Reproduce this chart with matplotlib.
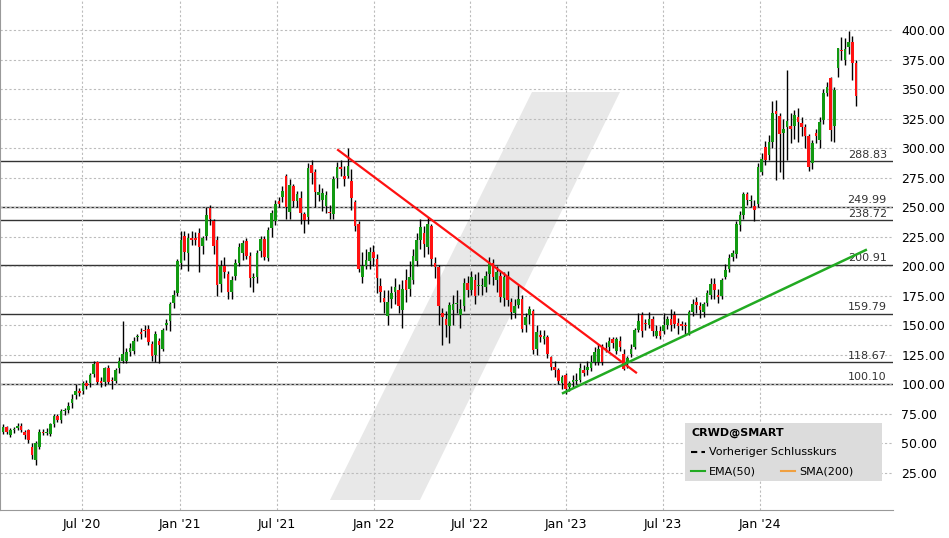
import matplotlib
matplotlib.use("Agg")
import matplotlib.pyplot as plt
from matplotlib.patches import Polygon, Rectangle
import numpy as np

opens = [60,64,57,61,63,65,60,61,47,36,47,60,59,58,66,73,70,77,78,84,91,94,94,101,101,109,119,103,102,114,
         104,103,114,120,120,127,128,140,144,146,147,134,125,137,130,150,154,169,177,203,226,211,224,224,228,217,226,249,238,222,
         185,200,193,178,192,203,211,221,209,190,191,213,223,207,232,238,255,259,276,246,268,255,258,244,242,286,280,260,256,251,
         246,244,275,284,276,276,272,254,236,191,200,204,212,206,183,173,158,172,178,180,163,188,181,188,204,222,228,216,234,203,
         199,160,155,149,163,168,159,166,186,180,188,183,183,182,193,203,188,192,173,192,170,160,167,172,150,159,162,130,142,138,
         140,123,115,112,101,108,98,102,103,104,112,112,114,119,119,131,131,132,138,128,137,126,118,126,132,146,159,152,150,155,
         141,145,145,150,155,159,152,151,150,143,161,170,166,161,169,176,185,176,175,191,198,208,210,235,243,261,255,251,253,280,
         301,294,305,331,327,313,318,319,319,326,321,318,310,287,313,307,324,347,359,319,368,383,375,386,390,372]
closes = [64,60,61,62,65,61,57,53,40,50,60,59,60,66,73,70,77,78,82,88,94,93,101,99,108,117,102,101,114,102,
          103,112,120,126,127,131,137,140,143,145,136,124,143,133,146,152,168,176,204,222,212,224,222,222,216,224,243,240,217,184,
          200,195,178,188,203,216,220,209,190,191,211,223,208,231,245,253,253,264,250,269,255,261,245,239,283,279,263,263,262,260,
          245,274,284,282,274,285,258,234,198,200,205,212,207,190,178,170,170,177,182,166,181,180,191,209,222,233,219,236,206,199,
          166,157,150,167,168,169,164,186,180,191,175,184,184,192,203,191,195,174,191,171,161,166,172,147,157,164,129,144,140,141,
          126,115,112,103,106,96,101,104,104,114,110,115,119,127,130,119,130,137,135,138,132,113,122,130,146,154,145,151,155,145,
          145,141,150,155,150,151,149,149,149,161,168,167,163,168,177,185,180,174,188,197,207,211,236,243,261,256,256,248,284,291,
          290,305,330,329,312,316,323,316,328,322,318,310,284,304,310,322,347,352,315,349,385,382,384,390,372,344]
highs = [66,65,63,64,67,67,61,62,50,52,62,62,63,67,75,75,79,80,85,92,100,97,103,104,110,120,120,106,115,116,
         106,114,123,154,131,135,140,143,148,150,150,137,145,139,148,155,170,180,206,230,230,228,230,229,232,226,250,252,240,226,
         205,208,196,192,206,220,222,224,212,194,214,226,226,233,248,256,259,268,278,274,270,264,264,246,287,290,282,270,266,264,
         252,276,288,290,285,300,282,256,238,212,215,216,218,210,190,180,180,183,190,185,188,198,204,215,228,240,234,242,236,208,
         201,165,162,170,176,180,172,190,192,196,193,195,190,196,208,206,200,196,195,196,173,172,184,176,160,166,164,150,146,146,
         142,124,120,114,108,110,103,108,110,118,116,120,125,132,134,134,136,140,140,140,141,130,124,134,148,160,161,155,161,158,
         150,149,160,158,164,162,156,154,153,163,172,174,170,170,180,190,190,181,190,202,210,214,238,247,263,263,260,256,287,296,
         306,311,340,341,330,325,366,330,332,334,326,320,312,307,316,326,350,356,360,352,385,394,393,399,395,375]
lows = [58,58,55,59,61,60,54,50,37,32,45,57,57,56,64,68,67,74,76,80,88,90,92,96,98,106,100,98,99,100,
        96,101,110,118,118,124,126,137,138,140,133,120,119,118,128,146,145,165,175,198,205,196,218,218,195,210,222,235,210,175,
        178,190,172,172,188,200,205,206,182,178,186,208,205,204,225,235,250,254,240,240,250,250,236,228,236,270,250,255,247,245,
        240,240,266,276,268,275,248,230,195,186,198,198,200,177,170,160,150,165,168,160,148,170,175,185,200,215,208,210,200,190,
        150,133,140,135,150,160,148,162,174,176,168,176,176,178,185,184,178,170,166,166,155,156,165,144,144,151,126,125,136,134,
        122,112,106,100,96,92,94,97,100,102,107,108,111,116,116,116,127,128,131,126,128,112,114,123,130,144,140,146,148,141,
        139,138,143,147,145,148,143,146,143,142,158,160,156,157,166,172,172,169,172,189,195,204,207,230,240,252,250,238,250,277,
        286,290,300,273,280,274,290,304,308,305,310,300,281,282,304,300,320,344,306,305,360,375,370,380,358,336]

levels = [288.83, 249.99, 238.72, 200.91, 159.79, 118.67, 100.10]
tick_pos = [21.8, 48.8, 75.5, 102.2, 128.7, 155.1, 181.8, 208.5]
tick_labels = ["Jul '20", "Jan '21", "Jul '21", "Jan '22", "Jul '22", "Jan '23", "Jul '23", "Jan '24"]
red_trend_x = [92.3, 174.4]; red_trend_y = [298.4, 110.0]
green_trend_x = [154.3, 237.7]; green_trend_y = [92.6, 213.7]
yticks = [25, 50, 75, 100, 125, 150, 175, 200, 225, 250, 275, 300, 325, 350, 375, 400]

W, H = 949, 538
fig = plt.figure(figsize=(W/100, H/100), dpi=100)
ax = fig.add_axes([0, 28/H, 893/W, 510/H])
ax.set_xlim(-0.83, 245.2)
ax.set_ylim(-6.4, 425.4)

# watermark
poly = Polygon([[330/893, (510-500)/510], [420/893, (510-500)/510], [620/893, (510-92)/510], [532/893, (510-92)/510]],
               closed=True, transform=ax.transAxes, facecolor="#e8e8e8", edgecolor="none", zorder=0)
ax.add_patch(poly)

ax.set_yticks(yticks)
ax.set_xticks(tick_pos)
ax.set_xticklabels(tick_labels, fontsize=9)
ax.grid(True, linestyle=(0, (2, 2)), color="#bcbcbc", linewidth=0.8, zorder=0.5)
ax.yaxis.tick_right()
ax.set_yticklabels([f"{v:.2f}" for v in yticks], fontsize=9)
ax.tick_params(length=0, pad=6)
for s in ["top", "right"]:
    ax.spines[s].set_visible(False)
ax.spines["left"].set_color("#999999")
ax.spines["bottom"].set_color("#999999")

for lv in levels:
    ax.axhline(lv, color="#333333", linewidth=1, zorder=1)
    ax.text(243.5, lv + 1.5, f"{lv:.2f}", ha="right", va="bottom", fontsize=8, color="#333333")

x = np.arange(len(closes))
o = np.array(opens); c = np.array(closes)
cols = np.where(c >= o, "#119911", "#ff1111")
ax.vlines(x, lows, highs, color="black", linewidth=1, zorder=2)
bot = np.minimum(o, c); hgt = np.maximum(np.abs(c - o), 1.0)
ax.bar(x, hgt, bottom=bot, width=0.72, color=cols, edgecolor="none", zorder=3)

ax.plot(red_trend_x, red_trend_y, color="#ff1111", linewidth=1.6, zorder=4)
ax.plot(green_trend_x, green_trend_y, color="#22aa22", linewidth=1.8, zorder=4)

# legend box
lx, ly = 685/W, 1 - 481/H
fig.patches.append(Rectangle((lx, ly), 197/W, 58/H, transform=fig.transFigure, facecolor="#dcdcdc", edgecolor="none", zorder=5))
fig.text(691/W, 1 - 433/H, "CRWD@SMART", fontsize=8, fontweight="bold", va="center", zorder=6)
fig.lines.append(plt.Line2D([691/W, 705/W], [1 - 452/H]*2, transform=fig.transFigure, color="black", linestyle=(0, (3, 2)), linewidth=1.5, zorder=6))
fig.text(709/W, 1 - 452/H, "Vorheriger Schlusskurs", fontsize=8, va="center", zorder=6)
fig.lines.append(plt.Line2D([691/W, 705/W], [1 - 471/H]*2, transform=fig.transFigure, color="#22aa22", linewidth=1.5, zorder=6))
fig.text(709/W, 1 - 471/H, "EMA(50)", fontsize=8, va="center", zorder=6)
fig.lines.append(plt.Line2D([781/W, 795/W], [1 - 471/H]*2, transform=fig.transFigure, color="#f0a040", linewidth=1.5, zorder=6))
fig.text(799/W, 1 - 471/H, "SMA(200)", fontsize=8, va="center", zorder=6)

fig.savefig("out.png", dpi=100)
